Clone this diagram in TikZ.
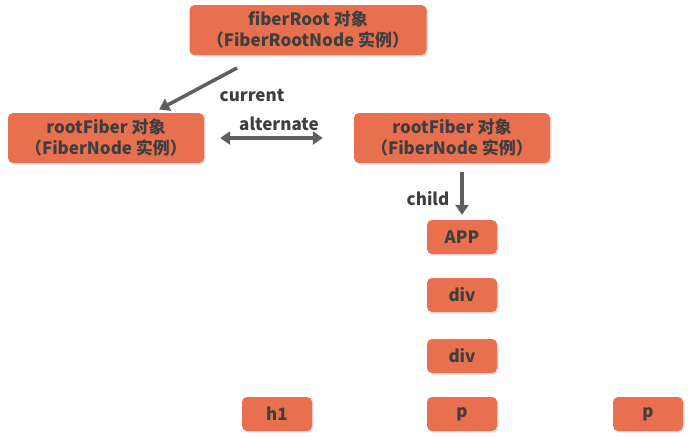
\documentclass[tikz,border=0pt]{standalone}
\usepackage{fontspec}
\setmainfont{Noto Sans CJK SC}
\usepackage{xcolor}
\usetikzlibrary{arrows.meta,shadows}

\definecolor{boxred}{HTML}{E9704F}
\definecolor{txtgray}{HTML}{3E3E3E}
\definecolor{arrgray}{HTML}{5E5E5E}

\begin{document}
\begin{tikzpicture}[x=1pt, y=-1pt,
      box/.style={fill=boxred, rounded corners=5pt, text=txtgray, align=center, inner sep=0pt,
        font=\fontsize{17}{21}\selectfont\bfseries,
        drop shadow={opacity=0.25, shadow xshift=1.5pt, shadow yshift=-1.5pt}},
      big/.style={box, minimum width=196pt, minimum height=50pt},
      tag/.style={box, minimum width=70pt, minimum height=34pt},
      lbl/.style={text=txtgray, font=\fontsize{17}{21}\selectfont\bfseries, inner sep=0pt},
      arr/.style={draw=arrgray, line width=3.5pt, -{Triangle[length=10pt, width=13pt]}}]
    \useasboundingbox (0,0) rectangle (694,437);
    % roots
    \node[big, minimum width=237pt] (fr) at (308, 30) {fiberRoot 对象\\（FiberRootNode 实例）};
    \node[big] (rfl) at (106, 138) {rootFiber 对象\\（FiberNode 实例）};
    \node[big] (rfr) at (452, 138) {rootFiber 对象\\（FiberNode 实例）};
    % tree
    \node[tag] (app) at (462, 237) {APP};
    \node[tag] (div1) at (462, 295) {div};
    \node[tag] (div2) at (462, 356) {div};
    \foreach \n/\x/\t in {h1/277/h1, pm/462/p, pr/648/p} {
      \node[tag] (\n) at (\x, 414) {\t};
    }
    % links
    \draw[arr, shorten <=27pt, shorten >=7pt] (fr) -- (rfl);
    \node[lbl] (cur) at (252, 95) {current};
    \draw[arr, {Triangle[length=10pt, width=13pt]}-{Triangle[length=10pt, width=13pt]},
      shorten <=16pt, shorten >=31pt] (rfl.east) -- (rfr.west);
    \node[lbl] (alt) at (279, 124) {alternate};
    \draw[arr, shorten <=9pt, shorten >=5pt] (rfr.south -| app.north) -- (app.north);
    \node[lbl] (chd) at (428, 199) {child};
  \end{tikzpicture}
\end{document}
